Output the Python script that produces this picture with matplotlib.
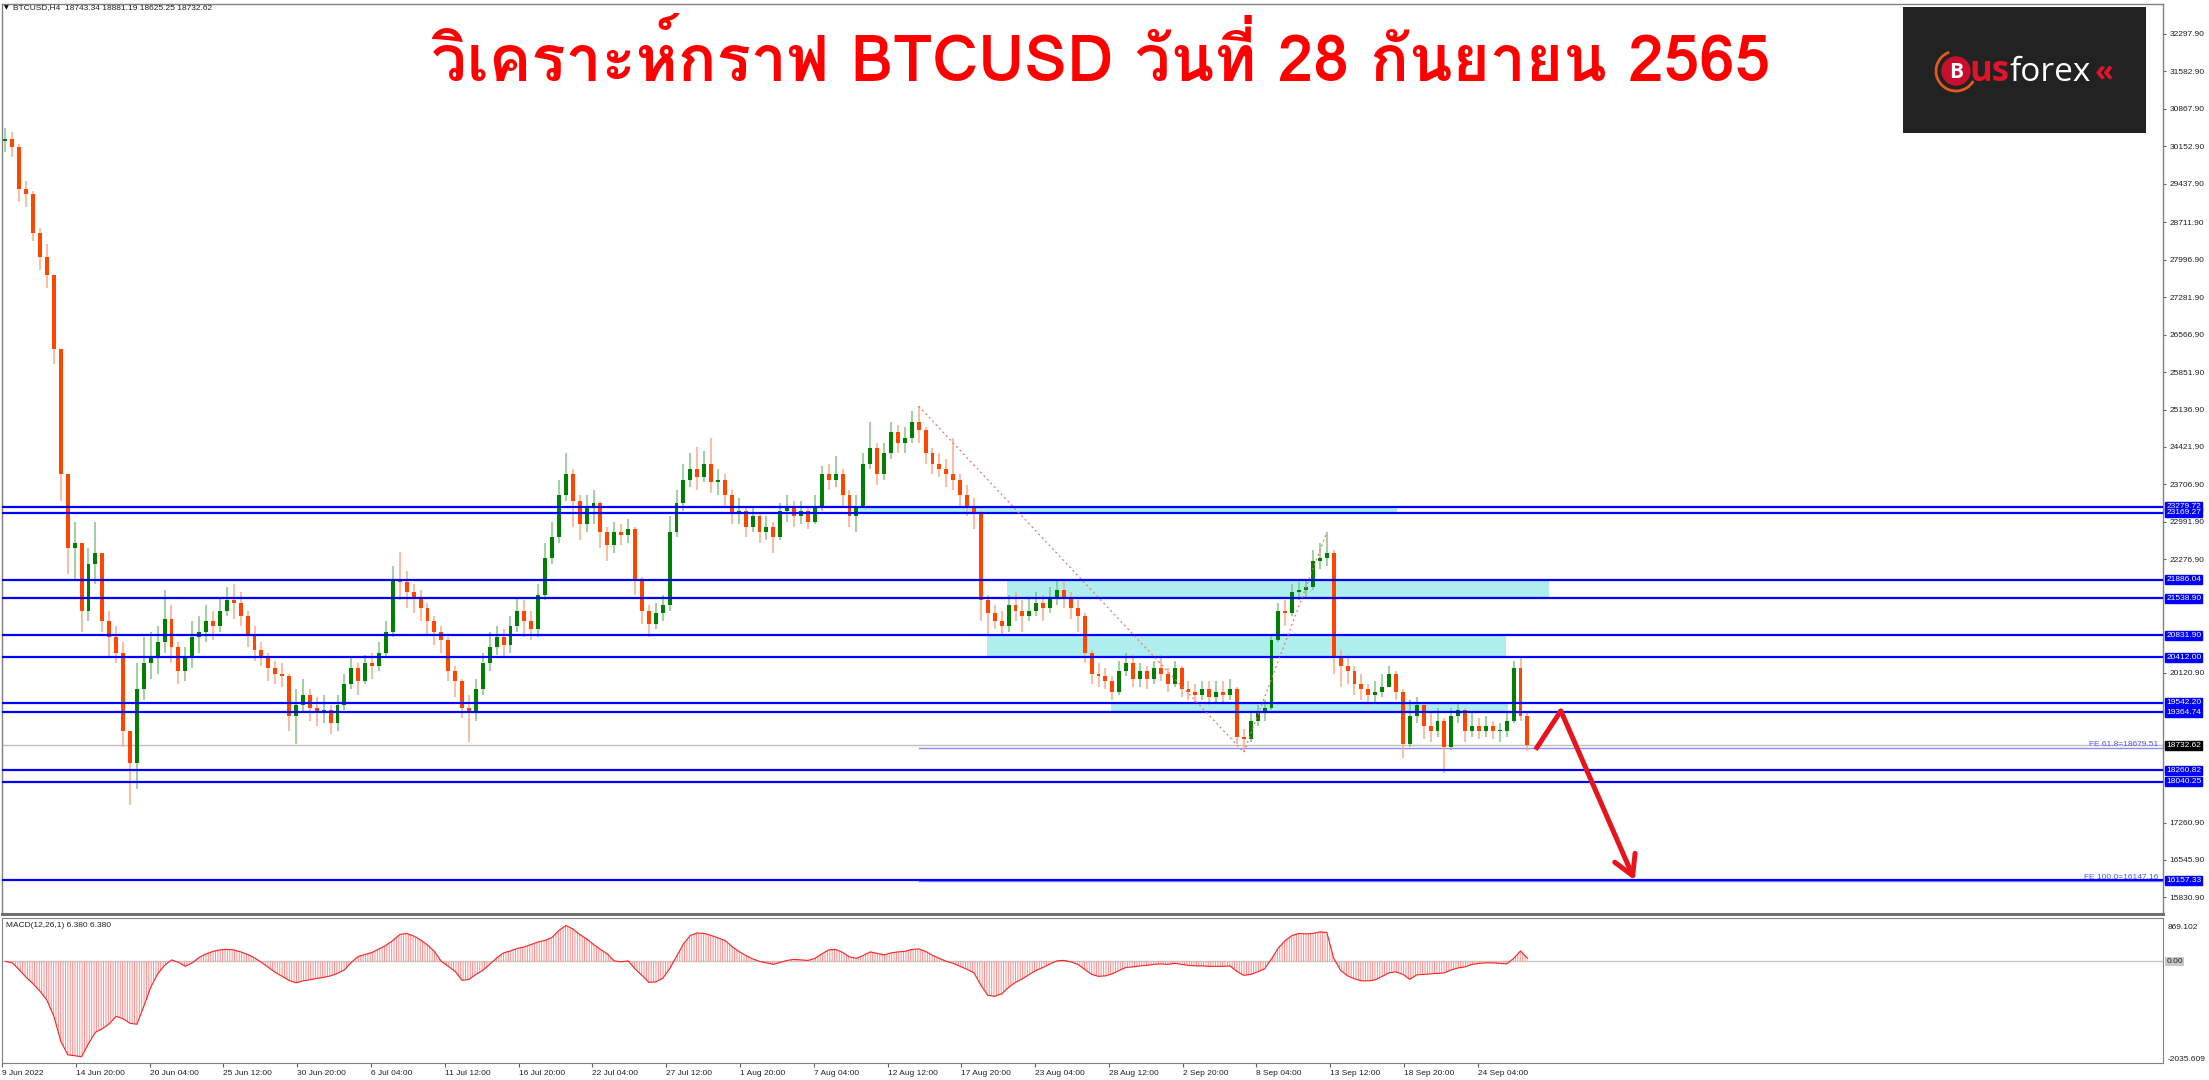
import numpy as np
import matplotlib
matplotlib.use('Agg')
import matplotlib.pyplot as plt
from matplotlib import font_manager
from matplotlib.ft2font import FT2Font
from matplotlib.patches import Rectangle, Circle, Arc

# ---- data (12h candles) ----
first_open = 30250
closes = [30300, 30150, 29350, 29250, 28500, 28050, 27700, 26300, 23900, 22500,
          22600, 21300, 22200, 22400, 21100, 20800, 20500, 19000, 18400, 19800,
          20300, 20400, 20700, 21150, 20600, 20150, 20400, 20800, 20900, 21100,
          21000, 21300, 21500, 21450, 21200, 20850, 20550, 20400, 20200, 20100,
          20050, 19300, 19500, 19700, 19450, 19350, 19400, 19150, 19500, 19900,
          20200, 19950, 20300, 20250, 20500, 20900, 21900, 21850, 21650, 21550,
          21350, 21100, 20900, 20750, 20150, 19950, 19450, 19350, 19800, 20300,
          20600, 20800, 20650, 21000, 21300, 21100, 20950, 21600, 22300, 22700,
          23500, 23900, 23400, 22950, 23300, 23350, 22800, 22550, 22800, 22750,
          22850, 21900, 21300, 21050, 21250, 21400, 22800, 23350, 23800, 24000,
          23850, 24100, 23750, 23800, 23500, 23150, 23200, 22900, 23100, 22800,
          22900, 22700, 23200, 23300, 23100, 23200, 23000, 23300, 23900, 23800,
          23900, 23500, 23100, 23300, 24100, 24400, 23900, 24300, 24700, 24500,
          24600, 24900, 24750, 24300, 24100, 24000, 23900, 23800, 23500, 23300,
          23150, 21500, 21250, 21100, 21000, 21400, 21300, 21200, 21300, 21450,
          21350, 21550, 21700, 21550, 21350, 21200, 20500, 20100, 20050, 19950,
          19750, 20150, 20300, 20000, 20150, 20000, 20200, 20100, 19900, 20200,
          19800, 19750, 19700, 19800, 19650, 19750, 19700, 19800, 18900, 18850,
          19200, 19350, 19450, 20750, 21300, 21250, 21650, 21700, 21750, 22250,
          22300, 22400, 20400, 20250, 20150, 19900, 19800, 19700, 19750, 19850,
          20100, 19750, 18750, 19300, 19500, 19100, 19000, 19200, 18700, 19300,
          19400, 19000, 19100, 19000, 19100, 19000, 19000, 19200, 20200, 19300,
          18732.62]
highs = [30500, 30420, 30200, 29500, 29300, 28600, 28300, 27700, 26300, 23900,
         23000, 22600, 22500, 23000, 22400, 21300, 21000, 20700, 19000, 20300,
         20800, 20900, 21000, 21700, 21400, 20700, 20600, 21100, 21200, 21400,
         21300, 21550, 21750, 21800, 21650, 21300, 21000, 20700, 20500, 20350,
         20300, 20100, 19800, 20000, 19800, 19650, 19700, 19500, 19700, 20100,
         20400, 20300, 20450, 20500, 20700, 21100, 22150, 22420, 22050, 21800,
         21700, 21450, 21200, 21000, 20800, 20250, 20000, 19700, 20000, 20500,
         20900, 21000, 20950, 21200, 21550, 21500, 21300, 21800, 22600, 23000,
         23800, 24300, 24000, 23500, 23500, 23600, 23400, 22900, 23000, 22950,
         23050, 22900, 21950, 21400, 21450, 21600, 23100, 23600, 24100, 24300,
         24420, 24350, 24600, 24000, 23900, 23600, 23450, 23300, 23300, 23150,
         23100, 23000, 23350, 23500, 23400, 23400, 23300, 23500, 24050, 24100,
         24250, 24000, 23600, 23500, 24300, 24900, 24500, 24500, 24900, 24850,
         24800, 25100, 25200, 24800, 24400, 24300, 24200, 24600, 23900, 23700,
         23450, 23200, 21600, 21400, 21300, 21600, 21650, 21500, 21550, 21650,
         21600, 21750, 21900, 21850, 21650, 21500, 21250, 20550, 20300, 20200,
         20050, 20350, 20500, 20450, 20300, 20250, 20350, 20450, 20200, 20350,
         20250, 19950, 19900, 19950, 19950, 19950, 19950, 20000, 19850, 19050,
         19350, 19500, 19600, 20850, 21450, 21500, 21800, 21850, 21900, 22450,
         22600, 22800, 22450, 20550, 20450, 20250, 20100, 19900, 19950, 20100,
         20250, 20150, 19800, 19600, 19650, 19550, 19350, 19450, 19250, 19450,
         19550, 19450, 19350, 19250, 19300, 19200, 19150, 19350, 20350, 20420,
         19350]
lows = [30050, 29950, 29100, 29000, 28350, 27800, 27450, 26000, 23400, 22000,
        21900, 20900, 21100, 21800, 20900, 20400, 20300, 18700, 17600, 17900,
        19600, 20000, 20100, 20500, 20300, 19900, 19950, 20200, 20500, 20700,
        20750, 20900, 21200, 21150, 21000, 20600, 20350, 20250, 19950, 19900,
        19850, 19000, 18750, 19350, 19200, 19100, 19150, 18950, 19000, 19400,
        19800, 19700, 19900, 20000, 20150, 20400, 20800, 21500, 21350, 21250,
        21100, 20850, 20650, 20500, 19950, 19650, 19250, 18800, 19200, 19700,
        20150, 20450, 20400, 20500, 20900, 20800, 20750, 20800, 21500, 22200,
        22600, 23400, 22900, 22650, 22800, 22950, 22500, 22250, 22400, 22550,
        22600, 21600, 21050, 20800, 20950, 21100, 21300, 22700, 23200, 23650,
        23600, 23750, 23550, 23500, 23300, 22950, 22950, 22700, 22800, 22600,
        22650, 22400, 22650, 23000, 22900, 22950, 22850, 22950, 23200, 23600,
        23650, 23300, 22900, 22800, 23250, 24000, 23700, 23800, 24200, 24300,
        24300, 24500, 24500, 24100, 23900, 23850, 23650, 23600, 23300, 23100,
        22850, 21100, 20850, 20950, 20850, 20900, 21100, 20900, 21100, 21200,
        21100, 21250, 21400, 21350, 21150, 20900, 20300, 19900, 19850, 19800,
        19600, 19700, 20050, 19850, 19850, 19800, 19900, 19950, 19750, 19850,
        19650, 19600, 19550, 19600, 19500, 19550, 19550, 19600, 18750, 18600,
        18800, 19100, 19200, 19400, 20700, 21000, 21200, 21500, 21550, 21700,
        22100, 22150, 20100, 19850, 19900, 19700, 19600, 19500, 19550, 19650,
        19850, 19600, 18500, 18700, 19150, 18850, 18800, 18900, 18200, 18650,
        19150, 18800, 18900, 18850, 18900, 18850, 18800, 18900, 19150, 19200,
        18625]
macd = [0, -30, -170, -320, -450, -600, -780, -1100, -1600, -1870,
        -1890, -1910, -1650, -1420, -1350, -1250, -1100, -1150, -1240, -1260,
        -900, -520, -250, -80, 30, -20, -100, -30, 80, 150,
        200, 230, 240, 230, 190, 140, 70, -20, -120, -220,
        -300, -380, -430, -390, -370, -340, -320, -290, -240, -170,
        -20, 100, 140, 180, 250, 320, 420, 540, 560, 510,
        430, 330, 200, 0, -100, -200, -380, -360, -260, -180,
        -60, 70, 170, 210, 260, 290, 340, 390, 420, 480,
        620, 720, 650, 540, 450, 340, 240, 150, 10, -10,
        10, -150, -280, -420, -410, -340, -150, 100, 350, 520,
        570, 560, 520, 470, 420, 300, 200, 120, 50, 0,
        -30, -60, -20, 20, 40, 30, 20, 60, 150, 230,
        240, 180, 90, 60, 120, 190, 160, 130, 170, 190,
        200, 240, 250, 200, 120, 60, 0, -40, -100, -160,
        -230, -480, -680, -700, -650, -520, -420, -350, -260, -180,
        -120, -50, 10, 20, -10, -60, -160, -260, -300, -290,
        -250, -180, -120, -110, -90, -80, -60, -50, -60, -40,
        -60, -80, -90, -90, -100, -100, -100, -90, -200, -280,
        -260, -210, -150, 50, 270, 420, 520, 560, 550, 560,
        590, 580, 60, -180, -290, -350, -390, -390, -370, -300,
        -230, -210, -260, -360, -270, -260, -250, -240, -230, -170,
        -130, -110, -60, -40, -30, -30, -40, -50, 60, 210,
        60]

date_labels = ['9 Jun 2022', '14 Jun 20:00', '20 Jun 04:00', '25 Jun 12:00', '30 Jun 20:00',
               '6 Jul 04:00', '11 Jul 12:00', '16 Jul 20:00', '22 Jul 04:00', '27 Jul 12:00',
               '1 Aug 20:00', '7 Aug 04:00', '12 Aug 12:00', '17 Aug 20:00', '23 Aug 04:00',
               '28 Aug 12:00', '2 Sep 20:00', '8 Sep 04:00', '13 Sep 12:00', '18 Sep 20:00',
               '24 Sep 04:00']
price_ticks = [32297.90, 31582.90, 30867.90, 30152.90, 29437.90, 28711.90, 27996.90,
               27281.90, 26566.90, 25851.90, 25136.90, 24421.90, 23706.90, 22991.90,
               22276.90, 20120.90, 17260.90, 16545.90, 15830.90]
levels = [23279.72, 23169.27, 21886.04, 21538.90, 20831.90, 20412.00,
          19542.20, 19364.74, 18260.82, 18040.25, 16157.33]
last_price = 18732.62
fe618 = 18679.51
fe100 = 16147.16
zone_top = [23279.72, 21886.04, 20831.90, 19542.20]
zone_bottom = [23169.27, 21538.90, 20412.00, 19364.74]
zone_start = [371, 436, 427, 481]   # H4 bar index
zone_end = [605, 671, 652, 653]
swing_idx = [132, 179, 191]         # candles of the FE swing
arrow_bars = [665, 676, 708]
arrow_prices = [18650, 19390, 16160]

title = 'วิเคราะห์กราฟ BTCUSD วันที่ 28 กันยายน 2565'
header = 'BTCUSD,H4  18743.34 18881.19 18625.25 18732.62'


def thai_fonts():
    found = []
    for f in font_manager.fontManager.ttflist:
        try:
            if 0x0E01 in FT2Font(f.fname).get_charmap() and f.name not in found:
                found.append(f.name)
        except Exception:
            pass
    return found


W, H = 2209, 1080
fig = plt.figure(figsize=(W / 100, H / 100), dpi=100)
fig.patch.set_facecolor('white')

small = ['Liberation Sans', 'DejaVu Sans']
fs = 6.0

# ---- main price panel ----
ax = fig.add_axes([2 / W, 1 - 914 / H, 2161 / W, 910 / H])
closes = np.array(closes, float)
highs = np.array(highs, float)
lows = np.array(lows, float)
opens = np.r_[first_open, closes[:-1]]
n = len(closes)
bar = 3 * np.arange(n) + 1.5
up = closes >= opens

for t, b, s, e in zip(zone_top, zone_bottom, zone_start, zone_end):
    ax.add_patch(Rectangle((s, b), e - s, t - b, fc='#afeeee', ec='none', zorder=1))

ax.axhline(last_price, color='#c0c0c0', lw=1, zorder=2)
ax.plot([bar[swing_idx[0]], 937], [fe618, fe618], color='#8c8cff', lw=1, zorder=2)
ax.plot([bar[swing_idx[0]], 937], [fe100, fe100], color='#8c8cff', lw=1, zorder=2)

ax.vlines(bar[up], lows[up], highs[up], color='#86c386', lw=1.1, zorder=3)
ax.vlines(bar[~up], lows[~up], highs[~up], color='#ffa88a', lw=1.1, zorder=3)
body = closes - opens
body = np.where(np.abs(body) < 25, np.where(body >= 0, 25, -25), body)
ax.bar(bar[up], body[up], bottom=opens[up], width=1.7, color='#008000', zorder=3)
ax.bar(bar[~up], body[~up], bottom=opens[~up], width=1.7, color='#ff4500', zorder=3)

for lv in levels:
    ax.axhline(lv, color='#0000ff', lw=1.6, zorder=4)

sw_x = [bar[swing_idx[0]], bar[swing_idx[1]], bar[swing_idx[2]]]
sw_y = [highs[swing_idx[0]], lows[swing_idx[1]], highs[swing_idx[2]]]
ax.plot(sw_x, sw_y, color='#ff6a6a', lw=0.9, ls=(0, (1.5, 2.5)), zorder=4)

ax.plot(arrow_bars[:2], arrow_prices[:2], color='#e8141c', lw=3.6,
        solid_capstyle='butt', zorder=6)
ax.annotate('', xy=(arrow_bars[2], arrow_prices[2]), xytext=(arrow_bars[1], arrow_prices[1]),
            arrowprops=dict(arrowstyle='->,head_length=0.7,head_width=0.4', color='#e8141c',
                            lw=3.6, mutation_scale=20, shrinkA=0, shrinkB=0), zorder=6)

ax.set_xlim(0, 937.1)
ax.set_ylim(15516, 32870)
ax.set_xticks([])
ax.yaxis.tick_right()
ax.set_yticks(price_ticks)
ax.set_yticklabels(['%.2f' % v for v in price_ticks], family=small, size=fs, color='#202020')
ax.tick_params(axis='y', length=2.5, width=0.8, pad=2, color='#606060')
for sp in ['left', 'top', 'right']:
    ax.spines[sp].set_color('#808080')
    ax.spines[sp].set_linewidth(1)
ax.spines['bottom'].set_color('#707070')
ax.spines['bottom'].set_linewidth(2.2)

ytr = ax.get_yaxis_transform()
for lv in levels:
    ax.text(1.0015, lv, '%.2f' % lv, transform=ytr, ha='left', va='center', color='white',
            family=small, size=fs, clip_on=False, zorder=8,
            bbox=dict(boxstyle='square,pad=0.12', fc='#0000ff', ec='#0000ff'))
ax.text(1.0015, last_price, '%.2f' % last_price, transform=ytr, ha='left', va='center',
        color='white', family=small, size=fs, clip_on=False, zorder=8,
        bbox=dict(boxstyle='square,pad=0.12', fc='black', ec='black'))
ax.text(0.998, fe618, 'FE 61.8=%.2f' % fe618, transform=ytr, ha='right', va='bottom',
        color='#5050ff', family=small, size=fs, zorder=7)
ax.text(0.998, fe100, 'FE 100.0=%.2f' % fe100, transform=ytr, ha='right', va='bottom',
        color='#5050ff', family=small, size=fs, zorder=7)

# ---- MACD panel ----
am = fig.add_axes([2 / W, 1 - 1063 / H, 2161 / W, 145 / H])
macd = np.array(macd, float)
plt.rcParams['hatch.linewidth'] = 0.7
am.fill_between(bar, 0, macd, facecolor='none', edgecolor='#ff8c8c', hatch='|||||||', lw=0)
am.plot(bar, macd, color='#ff2020', lw=0.8)
am.axhline(0, color='#c8c8c8', lw=1, zorder=0)
am.set_xlim(0, 937.1)
am.set_ylim(-2035.609, 869.102)
am.set_yticks([])
am.set_xticks(32 * np.arange(len(date_labels)))
am.set_xticklabels(date_labels, family=small, size=fs, ha='left', color='#202020')
am.tick_params(axis='x', length=3, width=0.8, pad=2, color='#606060')
for sp in am.spines.values():
    sp.set_color('#808080')
am.text(0.002, 0.97, 'MACD(12,26,1) 6.380 6.380', transform=am.transAxes, va='top',
        ha='left', family=small, size=fs, color='#202020')
am.text(1.002, 0.96, '869.102', transform=am.transAxes, va='top', ha='left',
        family=small, size=fs, color='#202020', clip_on=False)
am.text(1.002, 0.0, '-2035.609', transform=am.transAxes, va='bottom', ha='left',
        family=small, size=fs, color='#202020', clip_on=False)
am.text(1.0015, 0, '0.00', transform=am.get_yaxis_transform(), va='center', ha='left',
        family=small, size=fs, color='#202020', clip_on=False,
        bbox=dict(boxstyle='square,pad=0.1', fc='#c8c8c8', ec='none'))

# ---- header, title, logo ----
fig.text(4 / W, 1 - 8 / H, '\u25bc', family='DejaVu Sans', size=4.5, va='center', ha='left')
fig.text(13 / W, 1 - 8 / H, header, family=small, size=fs, va='center', ha='left',
         color='#202020')

tf = thai_fonts()
fig.text(1101 / W, 1 - 60 / H, title, family=tf + ['DejaVu Sans'], weight='bold',
         size=46, color='#ff0000', ha='center', va='center')

lg = fig.add_axes([1903 / W, 1 - 133 / H, 243 / W, 126 / H])
lg.set_facecolor('#222222')
lg.set_xlim(0, 243)
lg.set_ylim(0, 126)
lg.set_xticks([])
lg.set_yticks([])
for sp in lg.spines.values():
    sp.set_visible(False)
lg.add_patch(Arc((53, 62), 40, 40, theta1=110, theta2=330, color='#e05a1c', lw=2))
lg.add_patch(Circle((53, 62), 14, color='#c8102e'))
lg.text(53, 61, 'B', color='white', weight='bold', size=15, family='Open Sans',
        ha='center', va='center')
lg.text(66, 52, 'us', color='#e0142c', weight='bold', size=25, family='Open Sans',
        ha='left', va='baseline')
lg.text(106, 52, 'forex', color='white', size=24, family='Open Sans', ha='left', va='baseline')
lg.text(192, 53, '\u00ab', color='#e0142c', weight='bold', size=22, family='Open Sans',
        ha='left', va='baseline')

fig.savefig('out.png', dpi=100)
